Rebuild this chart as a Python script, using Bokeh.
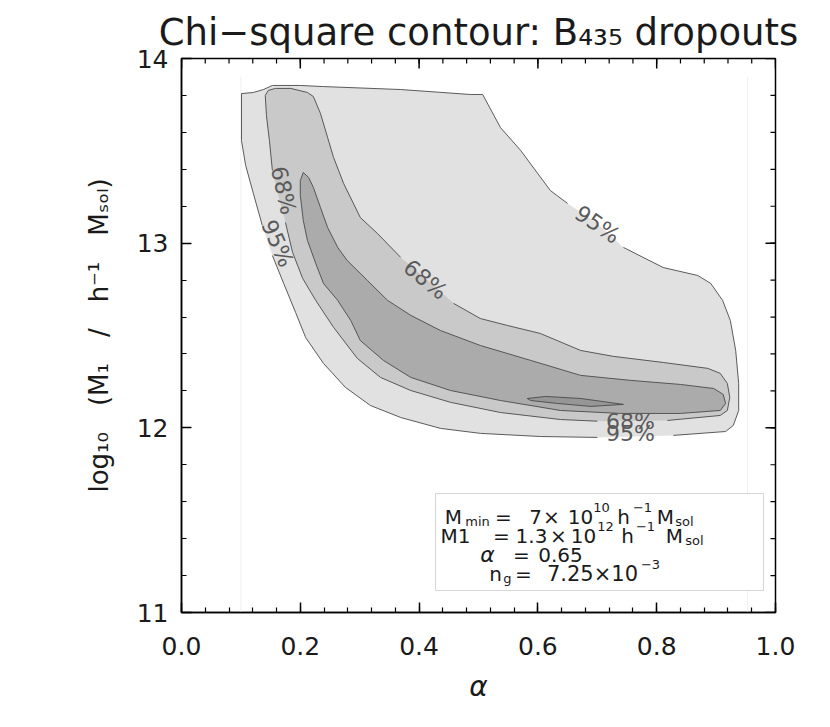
from bokeh.plotting import figure
from bokeh.models import (Range1d, FixedTicker, PrintfTickFormatter, Label,
                          ColumnDataSource, BoxAnnotation)
from bokeh.core.properties import value
from bokeh.embed import file_html
from bokeh.resources import INLINE

# ---------------- data ----------------
x_ticks = [0.0, 0.2, 0.4, 0.6, 0.8, 1.0]
x_minor = [round(0.04 * i, 2) for i in range(26)]
y_ticks = [11, 12, 13, 14]
y_minor = [round(11 + 0.2 * i, 1) for i in range(16)]

# 95% contour (outer, lightest fill)
alpha_95 = [0.101, 0.121, 0.138, 0.153, 0.200, 0.239, 0.369, 0.487, 0.507, 0.537,
            0.571, 0.621, 0.650, 0.700, 0.744, 0.811, 0.869, 0.891, 0.911, 0.924,
            0.933, 0.938, 0.938, 0.929, 0.916, 0.828, 0.700, 0.604, 0.503, 0.436,
            0.369, 0.318, 0.276, 0.239, 0.209, 0.192, 0.172, 0.153, 0.136, 0.121,
            0.108, 0.101]
logm_95 = [13.810, 13.816, 13.832, 13.854, 13.854, 13.848, 13.832, 13.805, 13.805, 13.626,
           13.502, 13.285, 13.215, 13.107, 12.977, 12.868, 12.825, 12.782, 12.690, 12.581,
           12.419, 12.240, 12.094, 12.013, 11.980, 11.959, 11.948, 11.953, 11.970, 11.997,
           12.056, 12.121, 12.219, 12.349, 12.489, 12.625, 12.782, 12.933, 13.096, 13.269,
           13.421, 13.556]

# 68% contour
alpha_68 = [0.141, 0.146, 0.158, 0.184, 0.212, 0.222, 0.234, 0.246, 0.256, 0.273,
            0.301, 0.330, 0.369, 0.411, 0.458, 0.503, 0.549, 0.604, 0.672, 0.727,
            0.811, 0.886, 0.907, 0.919, 0.923, 0.919, 0.907, 0.818, 0.700, 0.638,
            0.537, 0.453, 0.386, 0.335, 0.296, 0.256, 0.226, 0.204, 0.187, 0.175,
            0.163, 0.153, 0.148, 0.143]
logm_68 = [13.800, 13.827, 13.838, 13.838, 13.816, 13.794, 13.702, 13.572, 13.464, 13.323,
           13.139, 13.052, 12.923, 12.809, 12.674, 12.592, 12.554, 12.511, 12.419, 12.387,
           12.354, 12.322, 12.295, 12.240, 12.165, 12.094, 12.067, 12.040, 12.036, 12.045,
           12.083, 12.138, 12.202, 12.273, 12.376, 12.544, 12.690, 12.809, 12.950, 13.112,
           13.258, 13.394, 13.556, 13.691]

# inner contour (darker band)
alpha_in = [0.205, 0.214, 0.222, 0.234, 0.246, 0.263, 0.279, 0.313, 0.347, 0.386,
            0.436, 0.503, 0.588, 0.672, 0.756, 0.840, 0.896, 0.912, 0.916, 0.907,
            0.840, 0.739, 0.638, 0.537, 0.453, 0.386, 0.340, 0.301, 0.285, 0.263,
            0.239, 0.226, 0.212, 0.205, 0.200, 0.200]
logm_in = [13.383, 13.356, 13.302, 13.193, 13.085, 12.977, 12.906, 12.798, 12.690, 12.609,
           12.527, 12.446, 12.365, 12.284, 12.257, 12.235, 12.213, 12.181, 12.132, 12.094,
           12.078, 12.078, 12.094, 12.148, 12.202, 12.273, 12.365, 12.473, 12.581, 12.690,
           12.782, 12.890, 13.015, 13.123, 13.258, 13.339]

# minimum (darkest small island)
alpha_pk = [0.582, 0.613, 0.672, 0.744, 0.689, 0.633, 0.588]
logm_pk = [12.159, 12.170, 12.159, 12.127, 12.116, 12.132, 12.148]

# edges of the computed grid (faint lines)
grid_alpha_edges = [0.1, 0.953]
grid_logm_span = [11.0, 13.9]

contour_level_text = ["68%", "95%", "68%", "95%", "68%", "95%"]

title_text = "Chi\u2212square contour: B\u2084\u2083\u2085 dropouts"
x_label = "\u03b1"
y_label = "log\u2081\u2080\u2003(M\u2081\u2003/\u2003h\u207b\u00b9\u2003M\u209b\u2092\u2097)"
param_mmin = ["7", "\u00d7", "10", "10"]
param_m1 = ["1.3", "\u00d7", "10", "12"]
param_alpha = "0.65"
param_ng = ["7.25\u00d710", "\u22123"]

# ---------------- layout ----------------
W, H = 822, 719
FL, FR, FT, FB = 181, 775, 58, 612   # frame edges inside the canvas
FONT = "DejaVu Sans"
INK = "#1a1a1a"


def d(xp, yp):
    """canvas pixel -> data coordinates"""
    return ((xp - FL) / (FR - FL), 14.0 - 3.0 * (yp - FT) / (FB - FT))


p = figure(width=W, height=H, x_range=Range1d(0, 1), y_range=Range1d(11, 14),
           output_backend="svg", toolbar_location=None, title=title_text)
p.min_border_left = FL
p.min_border_right = W - FR
p.min_border_top = FT
p.min_border_bottom = H - FB
p.xgrid.visible = False
p.ygrid.visible = False
p.background_fill_color = "white"
p.border_fill_color = "white"
p.outline_line_color = "black"
p.outline_line_width = 1.5

p.title.align = "center"
p.title.text_font = FONT
p.title.text_font_size = "37px"
p.title.text_font_style = "normal"
p.title.text_color = INK
p.title.standoff = 10


def style_axis(ax, ticks, minor, fmt):
    ax.ticker = FixedTicker(ticks=ticks, minor_ticks=minor)
    ax.formatter = PrintfTickFormatter(format=fmt)
    ax.axis_line_color = "black"
    ax.axis_line_width = 1.5
    ax.major_tick_in = 10
    ax.major_tick_out = 0
    ax.minor_tick_in = 5
    ax.minor_tick_out = 0
    ax.major_tick_line_width = 1.5
    ax.minor_tick_line_width = 1.2
    ax.major_tick_line_color = "black"
    ax.minor_tick_line_color = "black"
    ax.major_label_text_font = FONT
    ax.major_label_text_color = INK
    ax.major_label_text_font_size = "25px"
    ax.axis_label_text_font = FONT
    ax.axis_label_text_color = INK


style_axis(p.xaxis[0], x_ticks, x_minor, "%.1f")
p.xaxis[0].major_label_standoff = 24
p.xaxis[0].axis_label = x_label
p.xaxis[0].axis_label_text_font_size = "28px"
p.xaxis[0].axis_label_text_font_style = "italic"
p.xaxis[0].axis_label_standoff = 12

style_axis(p.yaxis[0], y_ticks, y_minor, "%d")
p.yaxis[0].major_label_standoff = 13
p.yaxis[0].axis_label = y_label
p.yaxis[0].axis_label_text_font_size = "26px"
p.yaxis[0].axis_label_text_font_style = "normal"
p.yaxis[0].axis_label_standoff = 20

# ticks on the top and right frame edges (same tickers, drawn inward)
py_per = 3.0 / (FB - FT)
px_per = 1.0 / (FR - FL)
p.segment(x0=x_ticks, y0=[14] * len(x_ticks), x1=x_ticks,
          y1=[14 - 10 * py_per] * len(x_ticks), line_color="black", line_width=1.5)
p.segment(x0=x_minor, y0=[14] * len(x_minor), x1=x_minor,
          y1=[14 - 5 * py_per] * len(x_minor), line_color="black", line_width=1.2)
p.segment(x0=[1] * len(y_ticks), y0=y_ticks, x1=[1 - 10 * px_per] * len(y_ticks),
          y1=y_ticks, line_color="black", line_width=1.5)
p.segment(x0=[1] * len(y_minor), y0=y_minor, x1=[1 - 5 * px_per] * len(y_minor),
          y1=y_minor, line_color="black", line_width=1.2)

# faint grid-edge lines
for ga in grid_alpha_edges:
    p.line([ga, ga], grid_logm_span, line_color="#efefef", line_width=1)

# filled contours
for xs, ys, col in [(alpha_95, logm_95, "#e1e1e1"), (alpha_68, logm_68, "#c9c9c9"),
                    (alpha_in, logm_in, "#ababab"), (alpha_pk, logm_pk, "#969696")]:
    p.patch(xs, ys, fill_color=col, line_color=None)


def ring_runs(xs, ys, gaps):
    """split a closed contour into open runs, leaving out the segments i->i+1 in gaps"""
    n = len(xs)
    X, Y = xs + xs[:1], ys + ys[:1]
    if not gaps:
        return [X], [Y]
    start = (gaps[0] + 1) % n
    rx, ry = [], []
    cx, cy = [X[start]], [Y[start]]
    for k in range(n):
        i = (start + k) % n
        if i in gaps:
            if len(cx) > 1:
                rx.append(cx); ry.append(cy)
            cx, cy = [X[i + 1]], [Y[i + 1]]
        else:
            cx.append(X[i + 1]); cy.append(Y[i + 1])
    if len(cx) > 1:
        rx.append(cx); ry.append(cy)
    return rx, ry


# contour lines, broken where the level labels sit
for xs, ys, gaps in [(alpha_95, logm_95, [12, 13, 25, 37]),
                     (alpha_68, logm_68, [12, 13, 27, 39, 40]),
                     (alpha_in, logm_in, []), (alpha_pk, logm_pk, [])]:
    rx, ry = ring_runs(xs, ys, gaps)
    p.multi_line(rx, ry, line_color="#4a4a4a", line_width=0.9)

# contour level labels
lab_pos = [(283, 190, -1.35), (277, 243, -1.15), (425, 279, -0.68),
           (597, 224, -0.60), (630, 421, 0.0), (630, 433, 0.0)]
lsrc = ColumnDataSource(dict(
    x=[d(a, b)[0] for a, b, _ in lab_pos],
    y=[d(a, b)[1] for a, b, _ in lab_pos],
    ang=[c for _, _, c in lab_pos],
    t=contour_level_text))
p.text(x="x", y="y", text="t", angle="ang", source=lsrc, text_font=value(FONT),
       text_font_size=value("22px"), text_color="#5a5a5a", text_align="center",
       text_baseline="middle")


def piece(text, xc, yb, size, italic=False):
    x, y = d(xc, yb)
    p.add_layout(Label(x=x, y=y, x_units="data", y_units="data", text=text,
                       text_font=FONT, text_font_size=f"{size}px", text_color=INK,
                       text_align="center", text_baseline="alphabetic",
                       text_font_style="italic" if italic else "normal"))


# parameter box
bl, bt = d(435, 493)
br, bb = d(763, 590)
p.add_layout(BoxAnnotation(left=bl, right=br, top=bt, bottom=bb, fill_color="white",
                           fill_alpha=1.0, line_color="#777777", line_width=1))
# line 1
piece("M", 453, 516, 20); piece("min", 477, 521, 13); piece("=", 503, 516, 20)
piece(param_mmin[0], 535, 516, 20); piece(param_mmin[1], 551, 516, 20)
piece(param_mmin[2], 580, 516, 20); piece(param_mmin[3], 601, 507, 13)
piece("h", 623, 516, 20); piece("\u22121", 642, 507, 13)
piece("M", 665, 516, 20); piece("sol", 684, 521, 13)
# line 2
piece("M1", 455, 535, 20); piece("=", 501, 535, 20)
piece(param_m1[0], 531, 535, 20); piece(param_m1[1], 558, 535, 20)
piece(param_m1[2], 583, 535, 20); piece(param_m1[3], 605, 526, 13)
piece("h", 627, 535, 20); piece("\u22121", 645, 526, 13)
piece("M", 674, 535, 20); piece("sol", 694, 540, 13)
# line 3
piece("\u03b1", 487, 554, 22, italic=True); piece("=", 521, 554, 20)
piece(param_alpha, 560, 554, 20)
# line 4
piece("n", 495, 573, 20); piece("g", 507, 578, 13); piece("=", 523, 573, 20)
piece(param_ng[0], 592, 573, 21); piece(param_ng[1], 650, 564, 13)

open("out.html", "w").write(file_html(p, INLINE))
